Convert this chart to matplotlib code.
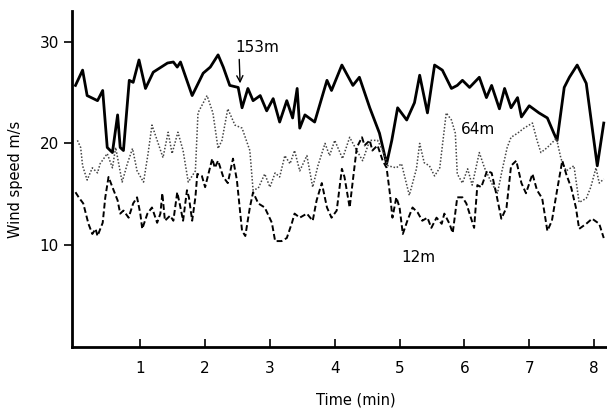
import matplotlib
matplotlib.use("Agg")
import matplotlib.pyplot as plt

# wind speed records (time in min, speed in m/s)
t_153 = [0.0, 0.11, 0.18, 0.34, 0.42, 0.49, 0.57, 0.65, 0.69, 0.74, 0.83, 0.89, 0.98, 1.08,
         1.20, 1.42, 1.51, 1.57, 1.62, 1.80, 1.97, 2.08, 2.20, 2.28, 2.38, 2.51, 2.57, 2.66,
         2.74, 2.85, 2.95, 3.05, 3.15, 3.26, 3.35, 3.42, 3.46, 3.54, 3.69, 3.88, 3.95, 4.11,
         4.28, 4.38, 4.54, 4.69, 4.80, 4.88, 4.97, 5.11, 5.23, 5.31, 5.43, 5.54, 5.66, 5.80,
         5.89, 5.97, 6.08, 6.23, 6.34, 6.42, 6.54, 6.62, 6.72, 6.82, 6.88, 7.00, 7.15, 7.28,
         7.38, 7.43, 7.54, 7.62, 7.74, 7.88, 7.97, 8.05, 8.15]
v_153 = [25.7, 27.2, 24.7, 24.2, 25.2, 19.6, 19.1, 22.8, 19.6, 19.3, 26.2, 26.0, 28.2, 25.4,
         27.0, 27.9, 28.0, 27.5, 28.0, 24.7, 26.9, 27.5, 28.7, 27.5, 25.7, 25.5, 23.5, 25.4,
         24.2, 24.7, 23.2, 24.4, 22.1, 24.2, 22.5, 25.4, 21.5, 22.8, 22.1, 26.2, 25.2, 27.7,
         25.7, 26.5, 23.5, 21.0, 18.0, 20.3, 23.5, 22.3, 24.0, 26.7, 23.0, 27.7, 27.2, 25.4,
         25.7, 26.2, 25.5, 26.5, 24.5, 25.7, 23.4, 25.4, 23.5, 24.5, 22.6, 23.7, 23.0, 22.5,
         21.0, 20.3, 25.5, 26.5, 27.7, 25.9, 21.6, 17.8, 22.0]

t_64 = [0.03, 0.08, 0.11, 0.18, 0.26, 0.34, 0.38, 0.49, 0.57, 0.62, 0.72, 0.80, 0.88, 0.95,
        1.05, 1.12, 1.18, 1.26, 1.35, 1.43, 1.49, 1.58, 1.66, 1.74, 1.85, 1.89, 2.03, 2.12,
        2.20, 2.26, 2.35, 2.46, 2.57, 2.69, 2.74, 2.82, 2.92, 3.00, 3.08, 3.15, 3.23, 3.31,
        3.38, 3.46, 3.57, 3.66, 3.74, 3.85, 3.92, 4.00, 4.12, 4.23, 4.34, 4.43, 4.54, 4.66,
        4.74, 4.82, 4.95, 5.03, 5.15, 5.26, 5.31, 5.38, 5.46, 5.54, 5.62, 5.72, 5.80, 5.86,
        5.89, 5.97, 6.05, 6.12, 6.23, 6.31, 6.42, 6.51, 6.58, 6.66, 6.72, 6.82, 6.92, 7.05,
        7.12, 7.18, 7.28, 7.42, 7.49, 7.57, 7.69, 7.77, 7.88, 7.95, 8.03, 8.08, 8.15]
v_64 = [20.3, 19.6, 17.8, 16.4, 17.6, 17.1, 18.0, 19.0, 17.6, 19.6, 16.2, 18.0, 19.5, 17.3,
        16.2, 19.0, 21.8, 20.3, 18.6, 21.1, 19.0, 21.1, 19.3, 16.2, 17.3, 23.0, 24.7, 23.0,
        19.5, 20.3, 23.4, 21.8, 21.5, 19.3, 15.4, 15.6, 17.0, 15.7, 17.1, 16.7, 18.8, 18.0,
        19.3, 17.3, 18.8, 15.7, 17.8, 20.0, 18.8, 20.3, 18.5, 20.6, 19.3, 18.3, 20.3, 20.3,
        19.3, 17.8, 17.6, 18.0, 14.9, 17.5, 20.0, 18.1, 17.8, 16.8, 17.6, 23.0, 22.3, 21.0,
        17.0, 16.1, 17.5, 15.9, 19.1, 17.6, 16.1, 15.1, 17.3, 19.6, 20.6, 21.0, 21.5, 22.0,
        20.3, 19.1, 19.6, 20.5, 18.5, 17.3, 17.8, 14.2, 14.6, 15.7, 17.6, 16.1, 16.5]

t_12 = [0.0, 0.05, 0.12, 0.20, 0.26, 0.31, 0.34, 0.42, 0.46, 0.51, 0.57, 0.65, 0.69, 0.74,
        0.82, 0.89, 0.95, 1.00, 1.03, 1.11, 1.18, 1.26, 1.31, 1.34, 1.38, 1.46, 1.51, 1.57,
        1.62, 1.66, 1.72, 1.75, 1.80, 1.85, 1.88, 1.95, 2.00, 2.11, 2.15, 2.20, 2.28, 2.35,
        2.43, 2.49, 2.57, 2.62, 2.69, 2.74, 2.82, 2.92, 3.03, 3.08, 3.18, 3.26, 3.34, 3.38,
        3.46, 3.57, 3.66, 3.72, 3.80, 3.88, 3.95, 4.03, 4.11, 4.15, 4.23, 4.28, 4.34, 4.42,
        4.46, 4.54, 4.58, 4.66, 4.74, 4.80, 4.85, 4.89, 4.95, 5.00, 5.05, 5.12, 5.20, 5.28,
        5.35, 5.43, 5.49, 5.57, 5.65, 5.69, 5.77, 5.82, 5.89, 5.97, 6.03, 6.15, 6.20, 6.26,
        6.35, 6.42, 6.49, 6.57, 6.65, 6.72, 6.80, 6.88, 6.95, 7.05, 7.12, 7.20, 7.28, 7.35,
        7.43, 7.51, 7.57, 7.65, 7.72, 7.77, 7.88, 7.97, 8.08, 8.15]
v_12 = [15.2, 14.7, 14.1, 12.1, 11.1, 11.6, 10.9, 12.2, 14.7, 16.7, 15.7, 14.4, 13.1, 13.4,
        12.7, 14.1, 14.7, 13.1, 11.6, 13.1, 13.7, 12.2, 13.1, 15.1, 12.4, 12.9, 12.4, 15.2,
        13.7, 12.4, 15.4, 14.7, 12.4, 14.7, 17.0, 16.8, 15.7, 18.5, 17.6, 18.3, 16.7, 16.1,
        18.5, 16.4, 11.4, 10.9, 13.7, 15.2, 14.1, 13.7, 12.2, 10.4, 10.4, 10.7, 12.2, 13.1,
        12.7, 13.1, 12.4, 14.4, 16.1, 13.7, 12.7, 13.4, 17.5, 16.7, 13.7, 16.4, 19.6, 20.6,
        19.8, 20.3, 19.3, 19.8, 18.3, 17.6, 15.1, 12.7, 14.7, 13.7, 11.1, 12.4, 13.7, 13.2,
        12.4, 12.7, 11.7, 12.7, 12.1, 13.1, 12.1, 11.2, 14.7, 14.7, 14.1, 11.7, 15.9, 15.7,
        17.3, 17.1, 15.1, 12.6, 13.7, 17.8, 18.3, 16.1, 15.1, 17.0, 15.4, 14.6, 11.4, 12.4,
        15.4, 18.3, 17.0, 15.6, 13.7, 11.6, 12.1, 12.6, 12.1, 10.7]

x_ticks = [1, 2, 3, 4, 5, 6, 7, 8]
y_ticks = [10, 20, 30]

fig = plt.figure(figsize=(6.07, 4.12), dpi=100)
ax = fig.add_axes([0.119, 0.158, 0.881, 0.815])

ax.plot(t_153, v_153, color='black', lw=2.0, solid_joinstyle='round')
ax.plot(t_64, v_64, color='#444444', lw=1.1, linestyle=(0, (1, 1.2)))
ax.plot(t_12, v_12, color='black', lw=1.4, linestyle=(0, (3, 1.5)))

ax.annotate('153m', xy=(2.54, 25.9), xytext=(2.47, 29.4), ha='left', va='center', fontsize=11,
            arrowprops=dict(arrowstyle='->', lw=1.0, color='black', relpos=(0.08, 0.0),
                            shrinkA=1, shrinkB=0))
ax.text(5.95, 21.4, '64m', ha='left', va='center', fontsize=11)
ax.text(5.03, 8.8, '12m', ha='left', va='center', fontsize=11)

ax.set_xlim(-0.05, 8.2)
ax.set_ylim(0, 33)
ax.set_xticks(x_ticks)
ax.set_yticks(y_ticks)
ax.tick_params(axis='x', direction='in', length=6, width=1.2, labelsize=11, pad=10)
ax.tick_params(axis='y', direction='out', length=6, width=1.2, labelsize=11)

for s in ['top', 'right']:
    ax.spines[s].set_visible(False)
for s in ['left', 'bottom']:
    ax.spines[s].set_linewidth(2.0)

ax.set_xlabel('Time (min)', fontsize=10.5)
ax.xaxis.set_label_coords(0.53, -0.135)
ax.set_ylabel('Wind speed m/s', fontsize=10.5, labelpad=12)

fig.savefig('out.png', dpi=100)
